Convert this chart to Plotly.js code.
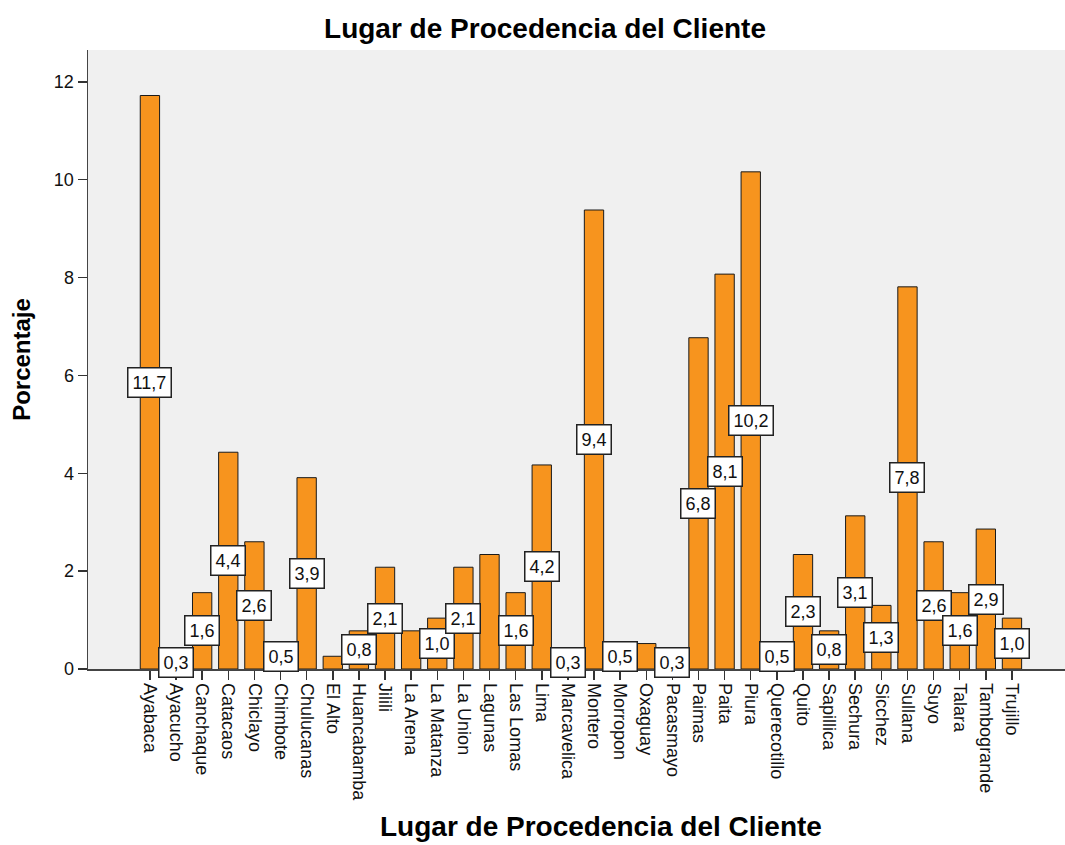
<!DOCTYPE html>
<html>
<head>
<meta charset="utf-8">
<script src="https://cdn.plot.ly/plotly-3.0.1.min.js"></script>
<style>html,body{margin:0;padding:0;background:#fff;}#chart{width:1065px;height:845px;}</style>
</head>
<body>
<div id="chart"></div>
<script>
const categories = ["Ayabaca","Ayacucho","Canchaque","Catacaos","Chiclayo","Chimbote","Chulucanas","El Alto","Huancabamba","Jilili","La Arena","La Matanza","La Union","Lagunas","Las Lomas","Lima","Marcavelica","Montero","Morropon","Oxaguay","Pacasmayo","Paimas","Paita","Piura","Querecotillo","Quito","Sapillica","Sechura","Sicchez","Sullana","Suyo","Talara","Tambogrande","Trujillo"];
const percentages = [11.72,0.26,1.56,4.43,2.60,0.52,3.91,0.26,0.78,2.08,0.78,1.04,2.08,2.34,1.56,4.17,0.26,9.38,0.52,0.52,0.26,6.77,8.07,10.16,0.52,2.34,0.78,3.13,1.30,7.81,2.60,1.56,2.86,1.04];
const hiddenLabels = ["El Alto","La Arena","Lagunas","Oxaguay"];
const yTicks = [0,2,4,6,8,10,12];

const FONT = "Liberation Sans, Arial, sans-serif";
const idx = categories.map((c,i)=>i);

const trace = {
  type: "bar",
  x: idx,
  y: percentages,
  width: 0.74,
  marker: {color: "#F7941E", line: {color: "#1a1a1a", width: 1}},
  hoverinfo: "none"
};

const annotations = [];
categories.forEach((c,i)=>{
  if (hiddenLabels.includes(c)) return;
  annotations.push({
    x: i, y: percentages[i]/2, xref: "x", yref: "y",
    text: percentages[i].toFixed(1).replace(".", ","),
    showarrow: false,
    font: {family: FONT, size: 18, color: "#111"},
    bgcolor: "#ffffff", bordercolor: "#222", borderwidth: 1.5, borderpad: 4,
    xanchor: "center", yanchor: "middle"
  });
});
annotations.push({
  text: "<b>Lugar de Procedencia del Cliente</b>",
  xref: "paper", yref: "paper",
  x: (601-88)/977, y: -(826-669)/619,
  xanchor: "center", yanchor: "middle", showarrow: false,
  font: {family: FONT, size: 28, color: "#000"}
});

const layout = {
  width: 1065, height: 845,
  margin: {l: 88, r: 0, t: 50, b: 176},
  paper_bgcolor: "#ffffff",
  plot_bgcolor: "#F0F0F0",
  showlegend: false,
  title: {
    text: "<b>Lugar de Procedencia del Cliente</b>",
    font: {family: FONT, size: 28, color: "#000"},
    x: 545/1065, xref: "container", xanchor: "center",
    y: 1-28/845, yref: "container", yanchor: "middle"
  },
  xaxis: {
    range: [-2.37, 35.03],
    tickmode: "array", tickvals: idx, ticktext: categories,
    tickangle: 90,
    ticks: "outside", ticklen: 9, tickwidth: 1.5, tickcolor: "#333",
    tickfont: {family: FONT, size: 18, color: "#111"},
    showline: true, linecolor: "#444", linewidth: 1.5,
    showgrid: false, zeroline: false, fixedrange: true
  },
  yaxis: {
    range: [0, 12.65],
    tickmode: "array", tickvals: yTicks, ticktext: yTicks.map(String),
    ticks: "outside", ticklen: 9, tickwidth: 1.5, tickcolor: "#333",
    tickfont: {family: FONT, size: 18, color: "#111"},
    showline: true, linecolor: "#444", linewidth: 1.5, mirror: true,
    showgrid: false, zeroline: false, fixedrange: true,
    title: {text: "<b>Porcentaje</b>", font: {family: FONT, size: 24, color: "#000"}, standoff: 16}
  },
  annotations: annotations
};

Plotly.newPlot("chart", [trace], layout, {displayModeBar: false, staticPlot: true});
</script>
</body>
</html>
